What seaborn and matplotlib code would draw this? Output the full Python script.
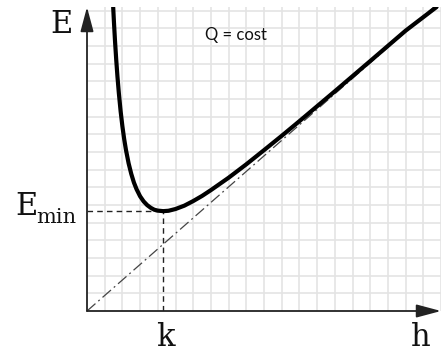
import matplotlib
matplotlib.use("Agg")
import matplotlib.pyplot as plt
import seaborn as sns
import pandas as pd

# Specific energy curve E(h) for constant discharge (grid units)
depth_h = [1.48, 1.52, 1.58, 1.65, 1.72, 1.8, 1.9, 2.0, 2.1, 2.2, 2.35, 2.5, 2.65,
           2.8, 3.0, 3.2, 3.4, 3.6, 3.8, 4.0, 4.3, 4.6, 5.0, 5.5, 6.0, 6.5, 7.0,
           8.0, 9.0, 10.0, 11.0, 12.0, 14.0, 16.0, 18.0, 19.75]
energy_E = [17.18, 16.39, 15.32, 14.23, 13.27, 12.32, 11.30, 10.45, 9.73, 9.12,
            8.36, 7.76, 7.27, 6.89, 6.49, 6.20, 5.99, 5.84, 5.73, 5.68, 5.65, 5.67,
            5.77, 5.96, 6.22, 6.51, 6.84, 7.54, 8.30, 9.10, 9.91, 10.74, 12.43,
            14.14, 15.86, 17.2]

# Asymptote E = h (drawn with the same scale as the curve)
asym_h = [0.0, 19.6]
asym_E = [0.0, 17.2]

# Critical depth and minimum energy
k_depth = 4.29
e_min = 5.65

curve = pd.DataFrame({"h": depth_h, "E": energy_E})
asym = pd.DataFrame({"h": asym_h, "E": asym_E})

sns.set_theme(style="white")
plt.rcParams["font.family"] = ["DejaVu Serif"]

W, H = 442, 353
fig = plt.figure(figsize=(W / 100, H / 100), dpi=100)
ax = fig.add_axes([87 / W, (H - 311) / H, 354 / W, 304 / H])
ax.set_xlim(0, 20)
ax.set_ylim(0, 17.2)

# Square grid
ax.set_xticks(range(1, 21))
ax.set_yticks(range(1, 18))
ax.grid(True, color="#e4e4e4", linewidth=1.2)
ax.tick_params(length=0, labelbottom=False, labelleft=False)
for s in ax.spines.values():
    s.set_visible(False)

# Asymptote and curve
sns.lineplot(data=asym, x="h", y="E", ax=ax, color="#444444", linewidth=0.9,
             linestyle=(0, (9, 3, 1.5, 3)), sort=False)
sns.lineplot(data=curve, x="h", y="E", ax=ax, color="black", linewidth=3.0,
             sort=False, zorder=5)

# Guides for the minimum
ax.hlines(e_min, 0, k_depth, colors="#222222", linewidth=1.0, linestyles=(0, (4, 3)))
ax.vlines(k_depth, 0, e_min, colors="#222222", linewidth=1.0, linestyles=(0, (4, 3)))
ax.set_xlabel("")
ax.set_ylabel("")

# Axes with arrowheads
arrow = dict(arrowstyle="-|>,head_length=0.75,head_width=0.2", color="#222222",
             lw=1.3, shrinkA=0, shrinkB=0, mutation_scale=20)
ax.annotate("", xy=(20, 0), xytext=(0, 0), arrowprops=arrow, annotation_clip=False)
ax.annotate("", xy=(0, 17.2), xytext=(0, 0), arrowprops=arrow, annotation_clip=False)

def px(x, y):
    return x / W, 1 - y / H

fs = 22
fig.text(*px(62, 33), "E", fontsize=fs, ha="center", va="baseline", color="#111111")
fig.text(*px(15, 215), "E", fontsize=fs, ha="left", va="baseline", color="#111111")
fig.text(*px(36, 223), "min", fontsize=15, ha="left", va="baseline", color="#111111")
fig.text(*px(165, 346), "k", fontsize=fs, ha="center", va="baseline", color="#111111")
fig.text(*px(421, 346), "h", fontsize=fs, ha="center", va="baseline", color="#111111")
fig.text(*px(205, 40), "Q = cost", fontsize=12, ha="left", va="baseline",
         color="#111111", family=["Lato", "DejaVu Sans"])

fig.savefig("out.png", dpi=100)
